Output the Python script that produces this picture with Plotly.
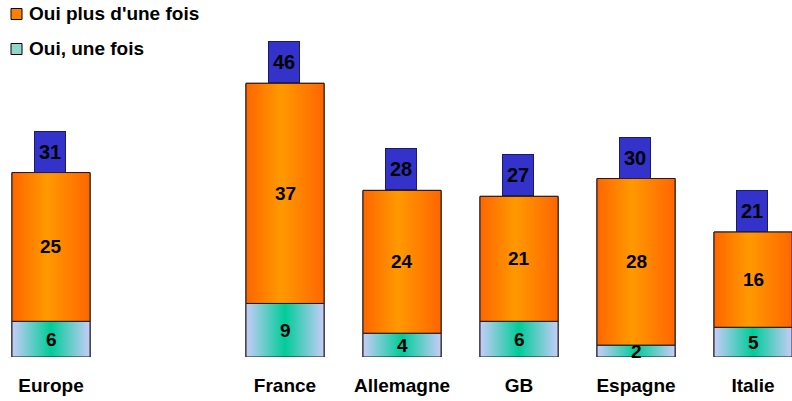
import plotly.graph_objects as go

# ---- data ----
categories = ["Europe", "France", "Allemagne", "GB", "Espagne", "Italie"]
oui_une_fois = [6, 9, 4, 6, 2, 5]
oui_plus = [25, 37, 24, 21, 28, 16]
totals = [31, 46, 28, 27, 30, 21]
legend_labels = ["Oui plus d'une fois", "Oui, une fois"]

# ---- layout helpers (a blank slot after "Europe") ----
xpos = [0] + [i + 1 for i in range(1, len(categories))]
BW = 0.667
FONT = "Liberation Sans, Arial, sans-serif"
W, H, B = 792, 401, 44
PH = H - B

fig = go.Figure()

# base bars
fig.add_trace(go.Bar(
    x=xpos, y=oui_une_fois, width=BW, name=legend_labels[1],
    marker=dict(color="#7fd9c0", line=dict(color="#000000", width=1)),
    showlegend=False, hoverinfo="skip"))
fig.add_trace(go.Bar(
    x=xpos, y=oui_plus, base=oui_une_fois, width=BW, name=legend_labels[0],
    marker=dict(color="#FF8000", line=dict(color="#000000", width=1)),
    showlegend=False, hoverinfo="skip"))

# gradient overlays on each bar segment
orange_scale = [[0, "#FF6600"], [0.45, "#FF9900"], [1, "#FF6600"]]
teal_scale = [[0, "#C8CCF8"], [0.5, "#00CC99"], [1, "#C8CCF8"]]
for xp, lo, hi in zip(xpos, oui_une_fois, oui_plus):
    x0, x1 = xp - BW / 2, xp + BW / 2
    for y0, y1, cs in [(0, lo, teal_scale), (lo, lo + hi, orange_scale)]:
        fig.add_trace(go.Scatter(
            x=[x0, x1, x1, x0, x0], y=[y0, y0, y1, y1, y0],
            mode="lines", fill="toself",
            fillgradient=dict(type="horizontal", colorscale=cs),
            line=dict(color="#1a1a1a", width=1),
            showlegend=False, hoverinfo="skip"))

# segment labels and total boxes
for xp, lo, hi, tot in zip(xpos, oui_une_fois, oui_plus, totals):
    fig.add_annotation(x=xp, y=lo / 2, text=f"<b>{lo}</b>", showarrow=False,
                       font=dict(family=FONT, size=19, color="#000000"))
    fig.add_annotation(x=xp, y=lo + hi / 2, text=f"<b>{hi}</b>", showarrow=False,
                       font=dict(family=FONT, size=19, color="#000000"))
    fig.add_annotation(x=xp - 0.01, y=lo + hi, yanchor="bottom", text=f"<b>{tot}</b>",
                       showarrow=False, width=30, height=40,
                       bgcolor="#3333CC", bordercolor="#1a1a66", borderwidth=1, borderpad=0,
                       font=dict(family=FONT, size=20, color="#000000"))

# manual legend (top-left)
legend_items = [(legend_labels[0], "#FF8000", 14), (legend_labels[1], "#8fd8c8", 49)]
for label, col, cy in legend_items:
    fig.add_shape(type="rect", xref="paper", yref="paper",
                  x0=11 / W, x1=22 / W, y0=(PH - (cy + 5.5)) / PH, y1=(PH - (cy - 5.5)) / PH,
                  fillcolor=col, line=dict(color="#000000", width=1))
    fig.add_annotation(xref="paper", yref="paper", x=27 / W, y=(PH - cy) / PH,
                       xanchor="left", yanchor="middle", showarrow=False,
                       text=f"<b>{label}</b>",
                       font=dict(family=FONT, size=19, color="#000000"))

fig.update_layout(
    width=W, height=H,
    margin=dict(l=0, r=0, t=0, b=B),
    barmode="overlay",
    plot_bgcolor="#FFFFFF", paper_bgcolor="#FFFFFF",
    showlegend=False,
    xaxis=dict(range=[-0.436, 6.333], tickvals=xpos, ticktext=[f"<b>{c}</b>" for c in categories],
               showgrid=False, zeroline=False, showline=False, ticks="",
               ticklabelstandoff=15,
               tickfont=dict(family=FONT, size=19, color="#000000")),
    yaxis=dict(range=[0, 60], visible=False, showgrid=False, zeroline=False),
)

fig.write_html("out.html")
